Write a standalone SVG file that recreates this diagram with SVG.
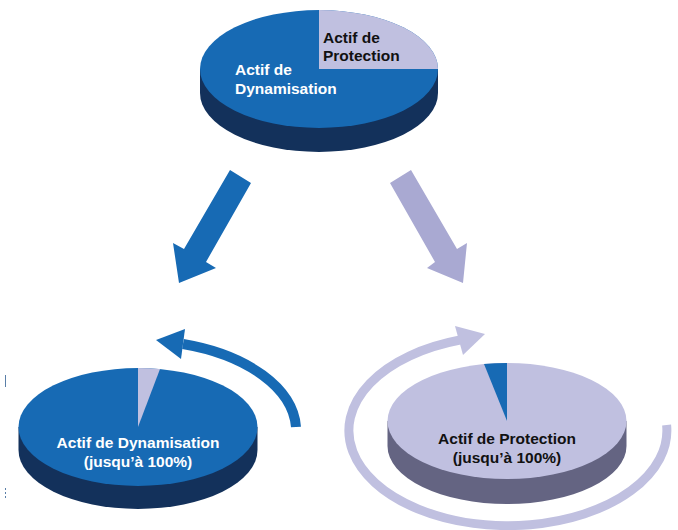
<svg xmlns="http://www.w3.org/2000/svg" width="678" height="530" viewBox="0 0 678 530">
  <style>
    .blue { fill: #176AB4; }
    .darkblue { fill: #13315B; }
    .lav { fill: #C0C0E0; }
    .lavside { fill: #646482; }
    .t { font-family: "Liberation Sans", Arial, sans-serif; font-weight: bold; font-size: 15.5px; }
    .w { fill: #FFFFFF; }
    .k { fill: #111111; }
  </style>
  <rect width="678" height="530" fill="#FFFFFF"/>

  <g id="pie-top">
    <path class="darkblue" d="M200,69 L200,93 A119,59 0 0 0 438,93 L438,69 Z"/>
    <ellipse class="blue" cx="319" cy="69" rx="119" ry="59"/>
    <path class="lav" d="M319,69 L319,10 A119,59 0 0 1 438,69 Z"/>
    <text class="t w" x="235" y="75">Actif de</text>
    <text class="t w" x="235" y="94">Dynamisation</text>
    <text class="t k" x="323" y="43">Actif de</text>
    <text class="t k" x="323" y="61">Protection</text>
  </g>

  <g id="pie-dynamisation">
    <path class="darkblue" d="M18.5,427 L18.5,450 A119.5,59 0 0 0 257.5,450 L257.5,427 Z"/>
    <ellipse class="blue" cx="138" cy="427" rx="119.5" ry="59"/>
    <path class="lav" d="M138,427 L138,368 A119.5,59 0 0 1 160,369 Z"/>
    <text class="t w" x="138" y="448" text-anchor="middle">Actif de Dynamisation</text>
    <text class="t w" x="138" y="467" text-anchor="middle">(jusqu’à 100%)</text>
  </g>

  <g id="pie-protection">
    <path class="lavside" d="M387.5,421 L387.5,446 A119.5,58 0 0 0 626.5,446 L626.5,421 Z"/>
    <ellipse class="lav" cx="507" cy="421" rx="119.5" ry="58"/>
    <path class="blue" d="M507,421 L507,363 A119.5,58 0 0 0 484,364 Z"/>
    <text class="t k" x="507" y="444" text-anchor="middle">Actif de Protection</text>
    <text class="t k" x="507" y="463" text-anchor="middle">(jusqu’à 100%)</text>
  </g>

  <g id="connectors">
    <polygon fill="#176AB4" points="230,170 251,183 206,262 216,268 179,283 173,243 184,249"/>
    <polygon fill="#A9A9D2" points="411,170 390,183 435,262 427,268 463,283 467,243 457,249"/>
    <path d="M296,427 A158,90.6 0 0 0 183,344" fill="none" stroke="#176AB4" stroke-width="10"/>
    <polygon fill="#176AB4" points="156,340 185,329 181,359"/>
    <path d="M666.6,425 A159,95 0 1 1 460,340" fill="none" stroke="#C0C0E0" stroke-width="9"/>
    <polygon fill="#C0C0E0" points="485,334 455,326 463,355"/>
  </g>

  <line x1="5.5" y1="375" x2="5.5" y2="387" stroke="#5A7FA8" stroke-width="1"/>
  <line x1="5.5" y1="488" x2="5.5" y2="500" stroke="#5A7FA8" stroke-width="1" stroke-dasharray="2,2"/>
</svg>
